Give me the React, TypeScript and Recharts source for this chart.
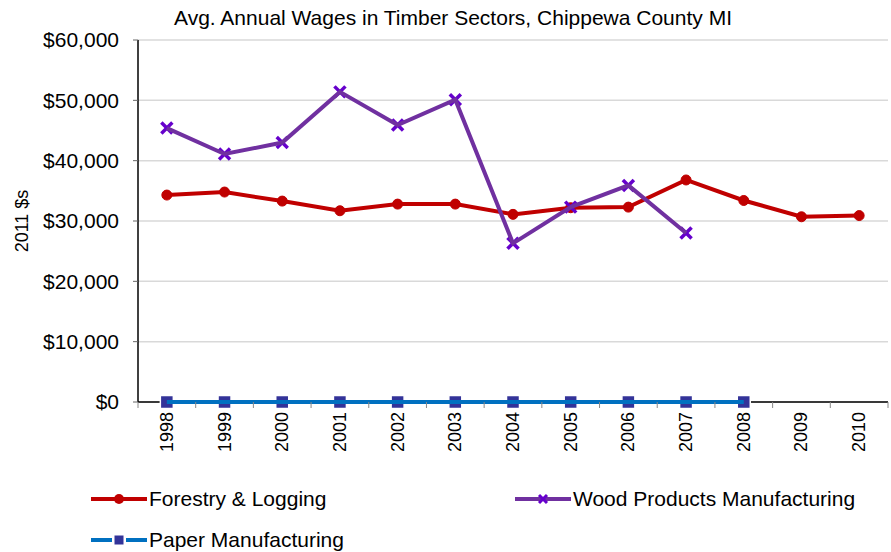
import { LineChart, Line, XAxis, YAxis, CartesianGrid } from "recharts";

const years = ["1998", "1999", "2000", "2001", "2002", "2003", "2004", "2005", "2006", "2007", "2008", "2009", "2010"];
const forestry = [34300, 34800, 33300, 31700, 32800, 32800, 31100, 32200, 32300, 36800, 33400, 30700, 30900];
const wood = [45400, 41100, 43000, 51400, 45900, 50100, 26300, 32300, 35900, 28000, null, null, null];
const paper = [0, 0, 0, 0, 0, 0, 0, 0, 0, 0, 0, null, null];
const yTicks = [0, 10000, 20000, 30000, 40000, 50000, 60000];

const W = 891;
const H = 552;
const PLOT_LEFT = 138;
const PLOT_RIGHT = 888;
const BAND = (PLOT_RIGHT - PLOT_LEFT) / years.length;
const FONT = "'Liberation Sans', Arial, sans-serif";

const data = years.map((y, i) => ({
  year: y,
  forestry: forestry[i],
  wood: wood[i],
  paper: paper[i],
}));

const money = (v: number) => "$" + v.toLocaleString("en-US");

function YearTick(props: any) {
  const { x, y, payload, index } = props;
  const axisY = y - 8;
  return (
    <g>
      <line x1={x - BAND / 2} y1={axisY} x2={x - BAND / 2} y2={axisY + 6} stroke="#888" />
      {index === years.length - 1 && (
        <line x1={x + BAND / 2} y1={axisY} x2={x + BAND / 2} y2={axisY + 6} stroke="#888" />
      )}
      <text
        x={x}
        y={y + 2}
        transform={`rotate(-90, ${x}, ${y + 2})`}
        textAnchor="end"
        dominantBaseline="central"
        fontSize={18}
        fontFamily={FONT}
        fill="#000"
      >
        {payload.value}
      </text>
    </g>
  );
}

function CrossDot(props: any) {
  const { cx, cy, value } = props;
  if (value == null || cx == null) return null;
  const s = 5.5;
  return (
    <g stroke="#6600CC" strokeWidth={3.5}>
      <line x1={cx - s} y1={cy - s} x2={cx + s} y2={cy + s} />
      <line x1={cx - s} y1={cy + s} x2={cx + s} y2={cy - s} />
    </g>
  );
}

function SquareDot(props: any) {
  const { cx, cy, value } = props;
  if (value == null || cx == null) return null;
  return <rect x={cx - 6.5} y={cy - 6.5} width={13} height={13} fill="#333399" stroke="#fff" strokeWidth={1.5} />;
}

function LegendIcon({ kind }: { kind: string }) {
  return (
    <svg width={58} height={14} style={{ verticalAlign: "middle" }}>
      {kind === "forestry" && (
        <g>
          <line x1={1} y1={7} x2={57} y2={7} stroke="#C00000" strokeWidth={4} />
          <circle cx={29} cy={7} r={5} fill="#C00000" />
        </g>
      )}
      {kind === "wood" && (
        <g>
          <line x1={1} y1={7} x2={57} y2={7} stroke="#7030A0" strokeWidth={4} />
          <g stroke="#6600CC" strokeWidth={3}>
            <line x1={25} y1={3} x2={33} y2={11} />
            <line x1={25} y1={11} x2={33} y2={3} />
          </g>
        </g>
      )}
      {kind === "paper" && (
        <g>
          <line x1={1} y1={7} x2={22} y2={7} stroke="#0070C0" strokeWidth={4} />
          <line x1={36} y1={7} x2={57} y2={7} stroke="#0070C0" strokeWidth={4} />
          <rect x={24} y={2} width={10} height={10} fill="#333399" stroke="#fff" />
        </g>
      )}
    </svg>
  );
}

const legendItems = [
  { kind: "forestry", label: "Forestry & Logging", left: 90, top: 487 },
  { kind: "wood", label: "Wood Products Manufacturing", left: 514, top: 487 },
  { kind: "paper", label: "Paper Manufacturing", left: 90, top: 528 },
];

export default function App() {
  return (
    <div
      style={{
        position: "absolute",
        top: 0,
        left: 0,
        width: W,
        height: H,
        background: "#fff",
        fontFamily: FONT,
        overflow: "hidden",
      }}
    >
      <div
        style={{
          position: "absolute",
          top: 6,
          left: 0,
          width: 906,
          textAlign: "center",
          fontSize: 21,
          color: "#000",
        }}
      >
        Avg. Annual Wages in Timber Sectors, Chippewa County MI
      </div>
      <div
        style={{
          position: "absolute",
          left: 22,
          top: 221,
          transform: "translate(-50%, -50%) rotate(-90deg)",
          fontSize: 18,
          whiteSpace: "nowrap",
        }}
      >
        2011 $s
      </div>
      <LineChart
        width={W}
        height={H}
        data={data}
        margin={{ top: 40, right: W - PLOT_RIGHT, left: 0, bottom: 0 }}
      >
        <CartesianGrid vertical={false} stroke="#D9D9D9" strokeWidth={1.5} />
        <XAxis
          dataKey="year"
          height={150}
          padding={{ left: BAND / 2, right: BAND / 2 }}
          axisLine={{ stroke: "#000", strokeWidth: 1.5 }}
          tickLine={false}
          interval={0}
          tick={<YearTick />}
        />
        <YAxis
          width={PLOT_LEFT}
          domain={[0, 60000]}
          ticks={yTicks}
          tickFormatter={money}
          axisLine={{ stroke: "#000", strokeWidth: 1.5 }}
          tickLine={{ stroke: "#666" }}
          tickSize={5}
          tickMargin={14}
          tick={{ fontSize: 21, fontFamily: FONT, fill: "#000" }}
        />
        <Line
          dataKey="forestry"
          stroke="#C00000"
          strokeWidth={4}
          dot={{ r: 5, fill: "#C00000", stroke: "#C00000", strokeWidth: 1 }}
          isAnimationActive={false}
          zIndex={600}
        />
        <Line
          dataKey="wood"
          stroke="#7030A0"
          strokeWidth={4}
          dot={<CrossDot />}
          isAnimationActive={false}
          zIndex={600}
        />
        <Line
          dataKey="paper"
          stroke="#0070C0"
          strokeWidth={4}
          dot={<SquareDot />}
          isAnimationActive={false}
          zIndex={600}
        />
      </LineChart>
      {legendItems.map((it) => (
        <div
          key={it.kind}
          style={{
            position: "absolute",
            left: it.left,
            top: it.top,
            fontSize: 21,
            display: "flex",
            alignItems: "center",
            whiteSpace: "nowrap",
          }}
        >
          <LegendIcon kind={it.kind} />
          <span style={{ marginLeft: 1 }}>{it.label}</span>
        </div>
      ))}
    </div>
  );
}
